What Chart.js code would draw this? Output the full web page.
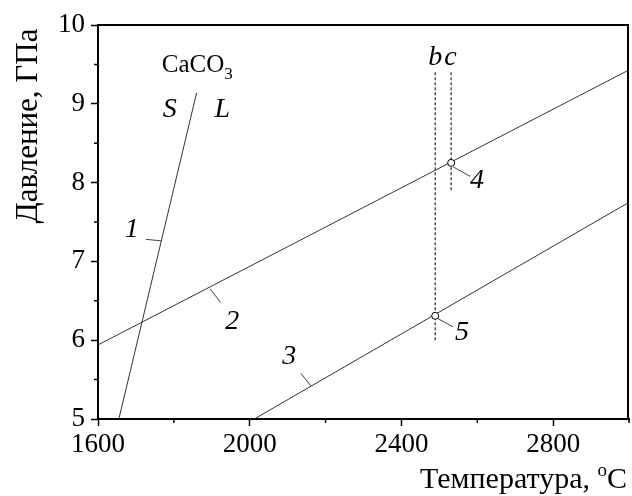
<!DOCTYPE html>
<html>
<head>
<meta charset="utf-8">
<script src="https://cdn.jsdelivr.net/npm/chart.js@4.4.0/dist/chart.umd.min.js"></script>
<style>
  html, body { margin: 0; padding: 0; background: #fff; }
</style>
</head>
<body>
<canvas id="chart" width="632" height="496"></canvas>
<script>
// melting curve of CaCO3 (S / L boundary)
const line1 = [{x: 1655, y: 5}, {x: 1860, y: 9.14}];
// reaction lines
const line2 = [{x: 1600, y: 5.94}, {x: 3000, y: 9.43}];
const line3 = [{x: 2012, y: 5}, {x: 3000, y: 7.75}];
// dashed verticals b and c
const lineB = [{x: 2489, y: 9.4}, {x: 2489, y: 5.98}];
const lineC = [{x: 2531, y: 9.4}, {x: 2531, y: 7.89}];
// experimental points 4 and 5
const points = [{x: 2531, y: 8.25}, {x: 2489, y: 6.31}];

const xTicksMajor = [1600, 2000, 2400, 2800];
const yTicksMajor = [5, 6, 7, 8, 9, 10];

// text labels in data units
const labels = [
  {t: '1', x: 1689, y: 7.40, it: true},
  {t: '2', x: 1954, y: 6.23, it: true},
  {t: '3', x: 2104, y: 5.79, it: true},
  {t: '4', x: 2599, y: 8.03, it: true},
  {t: '5', x: 2560, y: 6.10, it: true},
  {t: 'S', x: 1789, y: 8.92, it: true},
  {t: 'L', x: 1928, y: 8.92, it: true},
  {t: 'b', x: 2489, y: 9.58, it: true},
  {t: 'c', x: 2529, y: 9.58, it: true}
];
// small leader strokes from curves to their numbers
const leaders = [
  [1726, 7.28, 1768, 7.26],
  [1896, 6.65, 1923, 6.48],
  [2135, 5.58, 2161, 5.42],
  [2536, 8.20, 2581, 8.08],
  [2494, 6.28, 2536, 6.17]
];

const SERIF = '"Liberation Serif", "Times New Roman", serif';

const decor = {
  id: 'decor',
  afterDraw(chart) {
    const ctx = chart.ctx;
    const a = chart.chartArea;
    const xs = chart.scales.x, ys = chart.scales.y;
    ctx.save();
    // frame top/right
    ctx.strokeStyle = '#000';
    ctx.lineWidth = 2;
    ctx.beginPath();
    ctx.moveTo(a.left, a.top);
    ctx.lineTo(a.right - 1, a.top);
    ctx.lineTo(a.right - 1, a.bottom);
    ctx.stroke();

    // minor ticks
    ctx.lineWidth = 1.5;
    ctx.beginPath();
    xs.ticks.forEach(tk => {
      if (xTicksMajor.includes(tk.value)) return;
      const px = xs.getPixelForValue(tk.value);
      ctx.moveTo(px, a.bottom);
      ctx.lineTo(px, a.bottom + 4);
    });
    ys.ticks.forEach(tk => {
      if (yTicksMajor.includes(tk.value)) return;
      const py = ys.getPixelForValue(tk.value);
      ctx.moveTo(a.left, py);
      ctx.lineTo(a.left - 4, py);
    });
    ctx.stroke();

    // leaders
    ctx.strokeStyle = '#444';
    ctx.lineWidth = 1;
    ctx.beginPath();
    leaders.forEach(l => {
      ctx.moveTo(xs.getPixelForValue(l[0]), ys.getPixelForValue(l[1]));
      ctx.lineTo(xs.getPixelForValue(l[2]), ys.getPixelForValue(l[3]));
    });
    ctx.stroke();

    // labels
    ctx.fillStyle = '#000';
    ctx.textAlign = 'center';
    ctx.textBaseline = 'middle';
    labels.forEach(l => {
      ctx.font = (l.it ? 'italic ' : '') + '28px ' + SERIF;
      ctx.fillText(l.t, xs.getPixelForValue(l.x), ys.getPixelForValue(l.y));
    });

    // CaCO3
    ctx.textAlign = 'left';
    ctx.textBaseline = 'alphabetic';
    ctx.font = '25px ' + SERIF;
    const cx = xs.getPixelForValue(1768), cy = ys.getPixelForValue(9.52) + 9;
    ctx.fillText('CaCO', cx, cy);
    const w = ctx.measureText('CaCO').width;
    ctx.font = '17px ' + SERIF;
    ctx.fillText('3', cx + w, cy + 7);

    // x axis title
    ctx.font = '30px ' + SERIF;
    const t1 = 'Температура, ';
    const w1 = ctx.measureText(t1).width;
    const wC = ctx.measureText('C').width;
    ctx.font = '19px ' + SERIF;
    const wo = ctx.measureText('o').width;
    const right = 627, base = 488;
    let x0 = right - wC - wo - w1;
    ctx.font = '30px ' + SERIF;
    ctx.fillText(t1, x0, base);
    ctx.fillText('C', right - wC, base);
    ctx.font = '19px ' + SERIF;
    ctx.fillText('o', x0 + w1, base - 12);

    // y axis title
    ctx.translate(37, 126);
    ctx.rotate(-Math.PI / 2);
    ctx.font = '31px ' + SERIF;
    ctx.textAlign = 'center';
    ctx.fillText('Давление, ГПа', 0, 0);
    ctx.restore();
  }
};

const lineStyle = {showLine: true, pointRadius: 0, borderColor: '#333', borderWidth: 1, fill: false};

new Chart(document.getElementById('chart'), {
  type: 'scatter',
  data: {
    datasets: [
      {data: points, showLine: false, pointRadius: 3.5, pointBackgroundColor: '#fff',
       pointBorderColor: '#000', pointBorderWidth: 1, order: 0},
      Object.assign({data: line1, order: 1}, lineStyle),
      Object.assign({data: line2, order: 1}, lineStyle),
      Object.assign({data: line3, order: 1}, lineStyle),
      Object.assign({data: lineB, order: 1, borderDash: [3, 2]}, lineStyle, {borderColor: '#000'}),
      Object.assign({data: lineC, order: 1, borderDash: [3, 2]}, lineStyle, {borderColor: '#000'})
    ]
  },
  options: {
    responsive: false,
    animation: false,
    layout: {autoPadding: false, padding: {top: 25, right: 0, left: 0, bottom: 0}},
    plugins: {legend: {display: false}, tooltip: {enabled: false}},
    scales: {
      x: {
        type: 'linear', min: 1600, max: 3000,
        afterFit: s => { s.height = 77; },
        ticks: {
          stepSize: 200, autoSkip: false, maxRotation: 0, padding: 3,
          color: '#000', font: {family: SERIF, size: 27},
          callback: v => xTicksMajor.includes(v) ? String(v) : ''
        },
        grid: {
          drawOnChartArea: false, drawTicks: true, tickLength: 7, tickWidth: 1.5,
          tickColor: c => xTicksMajor.includes(c.tick.value) ? '#000' : 'rgba(0,0,0,0)'
        },
        border: {color: '#000', width: 2}
      },
      y: {
        min: 5, max: 10,
        afterFit: s => { s.width = 98; },
        ticks: {
          stepSize: 0.5, autoSkip: false, padding: 6,
          color: '#000', font: {family: SERIF, size: 27},
          callback: v => yTicksMajor.includes(v) ? String(v) : ''
        },
        grid: {
          drawOnChartArea: false, drawTicks: true, tickLength: 7, tickWidth: 1.5,
          tickColor: c => yTicksMajor.includes(c.tick.value) ? '#000' : 'rgba(0,0,0,0)'
        },
        border: {color: '#000', width: 2}
      }
    }
  },
  plugins: [decor]
});
</script>
</body>
</html>
